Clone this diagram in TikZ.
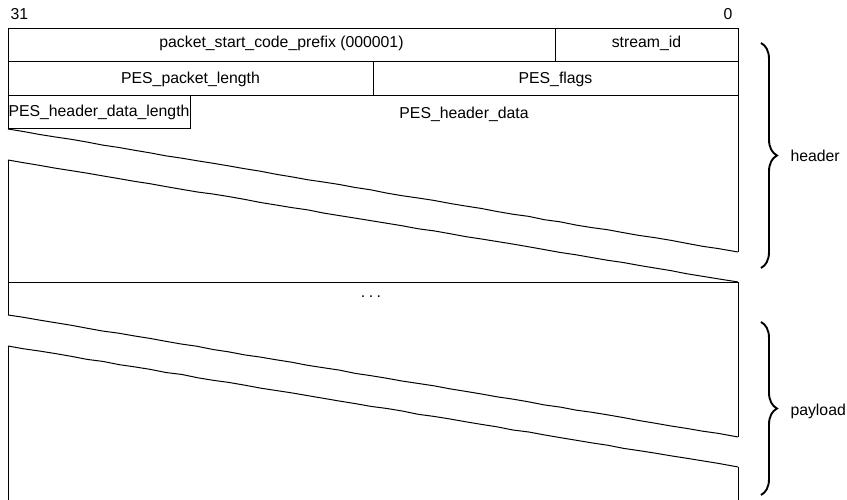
\documentclass[tikz,border=0pt]{standalone}
\usepackage{fontspec}
\setmainfont{Liberation Sans}
\usetikzlibrary{decorations.pathreplacing,decorations.pathmorphing}
\begin{document}
\begin{tikzpicture}[x=1pt,y=-1pt,line width=1pt,
  lbl/.style={font=\fontsize{15.8}{18}\selectfont,inner sep=0pt,anchor=base},
  lblw/.style={lbl,anchor=base west},
  jag/.style={decorate,decoration={random steps,segment length=16pt,amplitude=0.35pt}},
  brc/.style={decorate,decoration={brace,amplitude=16pt},line width=1.9pt}]
\pgfmathsetseed{7}
\useasboundingbox (0,0) rectangle (847,500);
% corner coordinates
\coordinate (tl) at (8,29);
\coordinate (tr) at (738,29);
\coordinate (r1l) at (8,62);
\coordinate (r1r) at (738,62);
\coordinate (r2l) at (8,96);
\coordinate (r2r) at (738,96);
\coordinate (sid) at (555,29);
\coordinate (sidb) at (555,62);
\coordinate (flg) at (373,62);
\coordinate (flgb) at (373,96);
\coordinate (hdlb) at (190,129);
\coordinate (hdlt) at (190,96);
\coordinate (a1) at (8,129);
\coordinate (b1) at (738,252);
\coordinate (a2) at (8,160);
\coordinate (b2) at (738,282);
\coordinate (a2b) at (8,282);
\coordinate (a3) at (8,315);
\coordinate (b3) at (738,437);
\coordinate (a4) at (8,346);
\coordinate (b4) at (738,467);
\coordinate (a5) at (8,500);
\coordinate (b5) at (738,500);
% frame
\draw (a1) -- (tl) -- (tr) -- (b1);
\draw (r1l) -- (r1r);
\draw (r2l) -- (r2r);
\draw (sid) -- (sidb);
\draw (flg) -- (flgb);
\draw (a1) -- (hdlb) -- (hdlt);
\draw[jag] (a1) -- (b1);
\draw[jag] (a2) -- (b2);
\draw (a2) -- (a3);
\draw (b2) -- (b3);
\draw (a2b) -- (b2);
\draw[jag] (a3) -- (b3);
\draw[jag] (a4) -- (b4);
\draw (a4) -- (a5);
\draw (b4) -- (b5);
% labels
\node[lbl] (n31) at (19.5,19.5) {31};
\node[lbl] (n0) at (728,19.5) {0};
\node[lbl] (pscp) at (281.5,48) {packet\_start\_code\_prefix (000001)};
\node[lbl] (sidt) at (646.5,48) {stream\_id};
\node[lbl] (ppl) at (190.5,84) {PES\_packet\_length};
\node[lbl] (pfl) at (555.5,84) {PES\_flags};
\node[lbl] (phdl) at (99,117) {PES\_header\_data\_length};
\node[lbl] (phd) at (464,119) {PES\_header\_data};
\node[lbl] (dots) at (371,297) {.\hspace{3.5pt}.\hspace{3.5pt}.};
% braces
\coordinate (hb1) at (761,43);
\coordinate (hb2) at (761,268);
\coordinate (pb1) at (761,322);
\coordinate (pb2) at (761,495);
\draw[brc] (hb1) -- (hb2);
\draw[brc] (pb1) -- (pb2);
\node[lblw] (hdr) at (790,162) {header};
\node[lblw] (pld) at (790,415) {payload};
\end{tikzpicture}
\end{document}
